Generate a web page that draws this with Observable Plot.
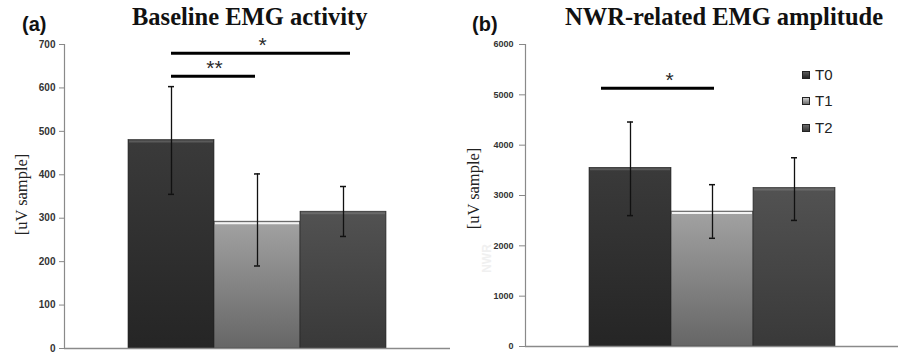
<!DOCTYPE html>
<html>
<head>
<meta charset="utf-8">
<script src="https://cdn.jsdelivr.net/npm/d3@7"></script>
<script src="https://cdn.jsdelivr.net/npm/@observablehq/plot@0.6"></script>
<style>
  html, body { margin: 0; padding: 0; background: #fff; }
  #wrap { position: relative; width: 898px; height: 353px; overflow: hidden; background: #fff; }
  .panel { position: absolute; top: 0; }
  .tag { position: absolute; font-family: "Liberation Sans", Arial, sans-serif; font-weight: bold; font-size: 20px; color: #111; }
  .title { position: absolute; font-family: "Liberation Serif", "Times New Roman", serif; font-weight: bold; font-size: 24.5px; color: #111; white-space: nowrap; }
  .legend { position: absolute; font-family: "Liberation Sans", Arial, sans-serif; font-size: 15px; color: #222; }
  .legend div { position: absolute; white-space: nowrap; display: flex; align-items: center; }
  .legend span.sw { display: inline-block; width: 8px; height: 8px; margin-right: 5px; border: 1px solid #222; box-sizing: border-box; }
</style>
</head>
<body>
<svg width="0" height="0" style="position:absolute">
  <defs>
    <linearGradient id="gT0" x1="0" y1="0" x2="0" y2="1">
      <stop offset="0" stop-color="#3a3a3a"/>
      <stop offset="1" stop-color="#252525"/>
    </linearGradient>
    <linearGradient id="gT1" x1="0" y1="0" x2="0" y2="1">
      <stop offset="0" stop-color="#a2a2a2"/>
      <stop offset="1" stop-color="#666666"/>
    </linearGradient>
    <linearGradient id="gT2" x1="0" y1="0" x2="0" y2="1">
      <stop offset="0" stop-color="#525252"/>
      <stop offset="1" stop-color="#393939"/>
    </linearGradient>
  </defs>
</svg>
<div id="wrap">
  <div class="panel" id="pa" style="left:0"></div>
  <div class="panel" id="pb" style="left:450px"></div>
  <div class="tag" style="left:22px; top:13px">(a)</div>
  <div class="title" style="left:132px; top:3px">Baseline EMG activity</div>
  <div class="tag" style="left:472px; top:13px">(b)</div>
  <div class="title" style="left:565px; top:3px">NWR-related EMG amplitude</div>
  <div class="legend" id="leg"></div>
</div>
<script>
// ---- data ----
const categories = ["T0", "T1", "T2"];
const fills = ["url(#gT0)", "url(#gT1)", "url(#gT2)"];
const topEdge = ["#5a5a5a", "#f2f2f2", "#6a6a6a"];

const baselineMean = [480, 292, 315];
const baselineHigh = [603, 402, 373];
const baselineLow = [355, 190, 258];
const baselineTicks = [0, 100, 200, 300, 400, 500, 600, 700];

const nwrMean = [3550, 2680, 3150];
const nwrHigh = [4460, 3215, 3750];
const nwrLow = [2600, 2150, 2505];
const nwrTicks = [0, 1000, 2000, 3000, 4000, 5000, 6000];

const sigFrom = ["T0", "T0"];
const sigTo = ["T2", "T1"];
const sigBaselineY = [680, 627];
const sigBaselineLabel = ["*", "**"];
const sigBaselineAt = ["T1", "T0"];
const sigNwrFrom = ["T0"];
const sigNwrTo = ["T1"];
const sigNwrY = [5130];
const sigNwrLabel = ["*"];
const sigNwrAt = ["T0"];

const yLabel = "[uV sample]";
const ghostLabel = "NWR";

function rows(mean, hi, lo) {
  return categories.map((t, i) => ({t, v: mean[i], hi: hi[i], lo: lo[i], edge: topEdge[i]}));
}

function panel(opts) {
  const data = rows(opts.mean, opts.hi, opts.lo);
  const sig = opts.sigY.map((y, i) => ({from: opts.sigFrom[i], to: opts.sigTo[i], y, label: opts.sigLabel[i], at: opts.sigAt[i]}));
  return Plot.plot({
    width: opts.width,
    height: 353,
    marginLeft: opts.marginLeft,
    marginRight: 0,
    marginTop: 44,
    marginBottom: opts.marginBottom,
    style: {fontFamily: "'Liberation Sans', Arial, sans-serif", fontSize: opts.tickFont, fontWeight: "bold", color: "#333", background: "transparent"},
    x: {domain: categories, paddingInner: 0, paddingOuter: opts.pad, axis: null},
    y: {domain: [0, opts.max], axis: null},
    color: {domain: categories, range: fills, type: "ordinal"},
    marks: [
      Plot.barY(data, {x: "t", y: "v", fill: "t", stroke: "#222", strokeWidth: 0.6}),
      Plot.tickY(data, {x: "t", y: "v", stroke: "edge", strokeWidth: 2, insetLeft: 1, insetRight: 1, dy: 1.5}),
      Plot.ruleX(data, {x: "t", y1: "lo", y2: "hi", stroke: "#111", strokeWidth: 1.3}),
      Plot.tickY(data, {x: "t", y: "hi", stroke: "#111", strokeWidth: 1.5, insetLeft: opts.capInset, insetRight: opts.capInset}),
      Plot.tickY(data, {x: "t", y: "lo", stroke: "#111", strokeWidth: 1.5, insetLeft: opts.capInset, insetRight: opts.capInset}),
      Plot.axisY({ticks: opts.ticks, tickSize: opts.tickSize, tickPadding: opts.tickPadding, stroke: "#888", label: null, tickFormat: d => String(d)}),
      Plot.frame({anchor: "left", stroke: "#8a8a8a", strokeWidth: 1.2}),
      Plot.ruleY([0], {stroke: "#8a8a8a", strokeWidth: 1.5}),
      ...sig.map((s, i) => Plot.ruleY([s], {x1: "from", x2: "to", y: "y", stroke: "#000", strokeWidth: 3,
        insetLeft: opts.sigInsets[i][0], insetRight: opts.sigInsets[i][1]})),
      ...sig.map((s, i) => Plot.text([s], {x: "at", y: "y", text: "label", dx: opts.sigLabelDx[i], dy: -8,
        fontSize: 21, fontWeight: "normal", fill: "#2a2a2a", letterSpacing: 1})),
      Plot.text([yLabel], {frameAnchor: "left", textAnchor: "middle", rotate: -90, dx: opts.labelDx, dy: opts.labelDy, text: d => d,
        fontFamily: "'Liberation Serif', 'Times New Roman', serif", fontSize: 16.5, fontWeight: "normal", fill: "#222"}),
      ...(opts.ghost ? [Plot.text([opts.ghost], {frameAnchor: "left", textAnchor: "middle", rotate: -90, dx: -38, dy: 63, text: d => d,
        fontSize: 12, fontWeight: "bold", fill: "#f0f0f0"})] : [])
    ]
  });
}

document.getElementById("pa").appendChild(panel({
  width: 450, marginLeft: 64, marginBottom: 5, pad: 0.736, max: 700,
  mean: baselineMean, hi: baselineHigh, lo: baselineLow, ticks: baselineTicks,
  tickFont: "10px", tickSize: 5, tickPadding: 4, capInset: 40,
  sigFrom, sigTo, sigY: sigBaselineY, sigLabel: sigBaselineLabel, sigAt: sigBaselineAt,
  sigInsets: [[43, 36], [43, 45]], sigLabelDx: [5, 43],
  labelDx: -43, labelDy: -2
}));

document.getElementById("pb").appendChild(panel({
  width: 448, marginLeft: 75, marginBottom: 7, pad: 0.755, max: 6000,
  mean: nwrMean, hi: nwrHigh, lo: nwrLow, ticks: nwrTicks,
  tickFont: "9px", tickSize: 6, tickPadding: 6, capInset: 38,
  sigFrom: sigNwrFrom, sigTo: sigNwrTo, sigY: sigNwrY, sigLabel: sigNwrLabel, sigAt: sigNwrAt,
  sigInsets: [[12, 39]], sigLabelDx: [39],
  labelDx: -52, labelDy: -7, ghost: ghostLabel
}));

// legend (panel b)
const leg = document.getElementById("leg");
const legendY = [75, 101, 128];
const swatch = ["linear-gradient(#5a5a5a,#262626)", "linear-gradient(#cfcfcf,#6a6a6a)", "linear-gradient(#6a6a6a,#393939)"];
categories.forEach((t, i) => {
  const d = document.createElement("div");
  d.style.left = "802px";
  d.style.top = (legendY[i] - 9) + "px";
  const sw = document.createElement("span");
  sw.className = "sw";
  sw.style.background = swatch[i];
  d.appendChild(sw);
  d.appendChild(document.createTextNode(t));
  leg.appendChild(d);
});
</script>
</body>
</html>
